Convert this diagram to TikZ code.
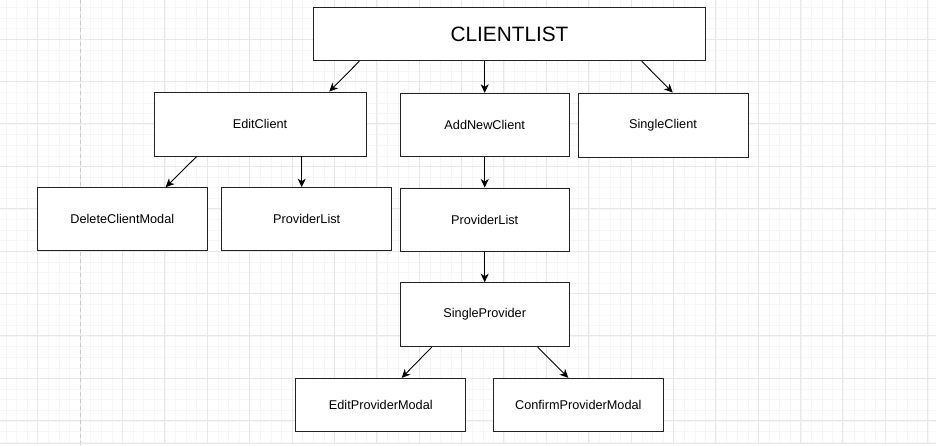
\documentclass[tikz,border=0pt]{standalone}
\usepackage{fontspec}
\setmainfont{Liberation Sans}
\usetikzlibrary{arrows.meta}
\definecolor{gridmajor}{HTML}{E8E8E8}
\definecolor{gridminor}{HTML}{F6F6F6}
\definecolor{dashcol}{HTML}{C8C8C8}
\definecolor{boxline}{HTML}{222222}
\tikzset{
  box/.style={draw=boxline, line width=0.95pt, fill=white, inner sep=0pt, font=\fontsize{12.7}{15}\selectfont},
  arr/.style={draw=black, line width=0.9pt, -{Stealth[length=8.5pt,width=8pt,inset=2.5pt]}},
}
\begin{document}
\begin{tikzpicture}[x=1pt,y=-1pt]
\useasboundingbox (0,0) rectangle (936,446);
\fill[white] (0,0) rectangle (936,446);
% minor grid
\foreach \k in {0,...,90} {
  \draw[gridminor, line width=0.6pt] ({-4.7+10.6*\k},0) -- ({-4.7+10.6*\k},443);
}
\foreach \k in {0,...,42} {
  \draw[gridminor, line width=0.6pt] (0,{-3.1+10.6*\k}) -- (936,{-3.1+10.6*\k});
}
% major grid
\foreach \k in {-1,...,22} {
  \draw[gridmajor, line width=0.9pt] ({37.7+42.38*\k},0) -- ({37.7+42.38*\k},443);
}
\foreach \k in {-1,...,10} {
  \draw[gridmajor, line width=0.9pt] (0,{39.1+42.4*\k}) -- (936,{39.1+42.4*\k});
}
\draw[dashcol, line width=1pt, dash pattern=on 4pt off 3pt] (80,0) -- (80,446);
\draw[gridmajor, line width=1pt] (0,443.5) -- (936,443.5);

% nodes
\node[box, minimum width=392.4pt, minimum height=53pt, font=\fontsize{20.8}{24}\selectfont] (cl) at (509.5,34.3) {CLIENTLIST};
\node[box, minimum width=212pt, minimum height=64pt] (ec) at (260,124) {EditClient};
\node[box, minimum width=169.3pt, minimum height=63.4pt] (anc) at (484.7,125) {AddNewClient};
\node[box, minimum width=170pt, minimum height=64pt] (sc) at (663,125) {SingleClient};
\node[box, minimum width=170pt, minimum height=63.3pt] (dcm) at (122.3,219.3) {DeleteClientModal};
\node[box, minimum width=170pt, minimum height=63.3pt] (pl1) at (306.7,219.3) {ProviderList};
\node[box, minimum width=169.3pt, minimum height=63pt] (pl2) at (484.7,219.5) {ProviderList};
\node[box, minimum width=169.3pt, minimum height=64pt] (sp) at (484.7,314.7) {SingleProvider};
\node[box, minimum width=169.7pt, minimum height=53.4pt] (epm) at (380.8,405) {EditProviderModal};
\node[box, minimum width=170pt, minimum height=53.4pt] (cpm) at (578.3,405) {ConfirmProviderModal};

% connectors
\draw[arr] ([xshift=-150.2pt]cl.south) -- ([xshift=69.3pt]ec.north);
\draw[arr] ([xshift=-24.8pt]cl.south) -- (anc.north);
\draw[arr] ([xshift=132.2pt]cl.south) -- ([xshift=9.7pt]sc.north);
\draw[arr] ([xshift=-63.3pt]ec.south) -- ([xshift=43.4pt]dcm.north);
\draw[arr] ([xshift=41.7pt]ec.south) -- ([xshift=-5pt]pl1.north);
\draw[arr] (anc.south) -- (pl2.north);
\draw[arr] (pl2.south) -- (sp.north);
\draw[arr] ([xshift=-53pt]sp.south) -- ([xshift=20.9pt]epm.north);
\draw[arr] ([xshift=53pt]sp.south) -- ([xshift=-10pt]cpm.north);
\end{tikzpicture}
\end{document}
